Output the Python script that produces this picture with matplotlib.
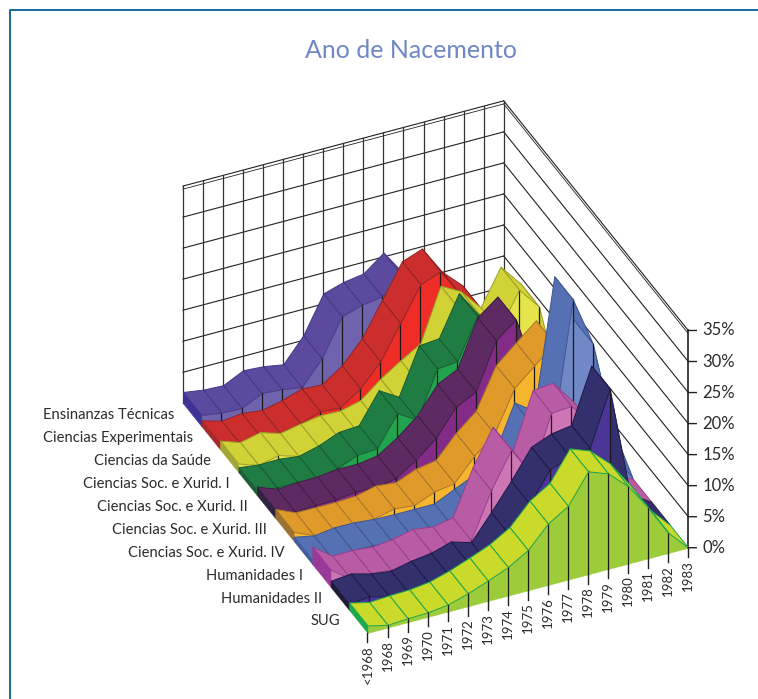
import matplotlib
matplotlib.use("Agg")
import matplotlib.pyplot as plt
from matplotlib.lines import Line2D
from mpl_toolkits.mplot3d import proj3d
from mpl_toolkits.mplot3d.art3d import Poly3DCollection

years = ["<1968", "1968", "1969", "1970", "1971", "1972", "1973", "1974", "1975",
         "1976", "1977", "1978", "1979", "1980", "1981", "1982", "1983"]
series_names = ["SUG", "Humanidades II", "Humanidades I", "Ciencias Soc. e Xurid. IV",
                "Ciencias Soc. e Xurid. III", "Ciencias Soc. e Xurid. II",
                "Ciencias Soc. e Xurid. I", "Ciencias da Saúde",
                "Ciencias Experimentais", "Ensinanzas Técnicas"]
pct_ticks = [0, 5, 10, 15, 20, 25, 30, 35]

# front to back
sug = [1.2, 0.45, 0.65, 0.75, 1.15, 2.1, 3.3, 4.6, 6.5, 9.9, 11.9, 16.6, 15.4, 12.5, 8.2, 3.3, 0]
hum2 = [1, 1.33, 0.47, 0.05, 0.8, 1.2, 2.2, 1.2, 5.2, 9.4, 14, 15.3, 15.8, 24.5, 7, 2, 0]
hum1 = [2.8, 0.5, 0.55, 0.23, 0.6, 1.37, 0.9, 1.54, 8.7, 14.4, 9.7, 18.6, 18.9, 15.1, 4, 1.5, 0]
soc4 = [0.7, 0.05, 0.5, 0.46, 0.14, 0.05, 0.05, 0.05, 1.56, 3, 5.5, 12.9, 10.7, 31.5, 23.5, 9, 0]
soc3 = [1.48, 0.09, 0.05, 0.05, 0.2, 0.97, 0.65, 1.95, 2.5, 6, 8.7, 15.2, 18, 20.7, 14, 7, 0]
soc2 = [1.39, 0.16, 0.38, 0.44, 0.82, 0.77, 1.26, 3.36, 6, 10.2, 11.8, 19.2, 21.7, 12, 7, 3, 0]
soc1 = [0.8, 0.39, 0.45, 0.05, 0.89, 2.2, 2.4, 7.2, 5.3, 12.7, 13, 19.4, 15, 10, 7, 3, 0]
saude = [1.4, 0.3, 1.05, 0.05, 0.7, 1.2, 1.1, 1.9, 4.5, 6.6, 8.5, 16.9, 15.2, 11.7, 17.4, 13.8, 0]
exper = [0.95, 0.05, 0.42, 0.05, 0.76, 1.8, 1.6, 3.8, 7.3, 12.6, 18, 19.2, 14.6, 11.6, 5, 2, 0]
tecn = [1.83, 1.35, 1.2, 2.76, 2.55, 2, 5.8, 11.7, 12.7, 13.2, 15.7, 11.5, 9, 5, 2.5, 1, 0]
all_series = [sug, hum2, hum1, soc4, soc3, soc2, soc1, saude, exper, tecn]

top_colors = ["#c9da2a", "#34306e", "#b85ca5", "#5570b3", "#e09a2a",
              "#5e2a62", "#1f7d43", "#d0d235", "#cc2e2e", "#5c4a9e"]
front_colors = ["#9ccc3a", "#4b3596", "#ce75b6", "#7089c6", "#f6b52c",
                "#842b87", "#22a44f", "#e5e44a", "#ef2d26", "#6f63ae"]
side_colors = ["#1ea94c", "#1e1b33", "#9a3a98", "#3e5d9d", "#9c7230",
               "#2e2340", "#1b5d36", "#a3a635", "#a52a2a", "#3f3296"]
edge_colors = ["#1ea64e", "#1c1a45", "#9a3f8c", "#3f5590", "#a8752a",
               "#3f1c44", "#155a30", "#9c9e2a", "#8f2424", "#453785"]

fig = plt.figure(figsize=(7.58, 6.99), dpi=100)
# axes centred on the middle of the chart box
ax = fig.add_axes([127.5 / 758, 24 / 699, 600 / 758, 600 / 699], projection="3d", computed_zorder=False)
ax.set_proj_type("ortho")
ax.view_init(elev=35.1, azim=-114.8)
ax.set_box_aspect((352.6, 439, 265), zoom=1.009)
n = len(years) - 1
m = len(all_series)
ax.set_xlim(0, n)
ax.set_ylim(0, m)
ax.set_zlim(0, 35)
ax.set_axis_off()

# walls
for p in pct_ticks[1:]:
    ax.plot([0, n], [m, m], [p, p], color="#222222", lw=0.8, zorder=1)
    ax.plot([n, n], [m, 0], [p, p], color="#222222", lw=0.8, zorder=1)
ax.plot([0, n], [m, m], [34.5, 34.5], color="#222222", lw=0.6, zorder=1)
ax.plot([n, n], [m, 0], [34.5, 34.5], color="#222222", lw=0.6, zorder=1)
for i in range(n + 1):
    ax.plot([i, i], [m, m], [0, 35], color="#333333", lw=0.9, zorder=1)
ax.plot([n, n], [0, 0], [0, 35], color="#222222", lw=1.2, zorder=2)

order = 10
for j in range(m - 1, -1, -1):
    vals = all_series[j]
    for i in range(n - 1, -1, -1):
        z0, z1 = vals[i], vals[i + 1]
        wall = Poly3DCollection([[(i, j, 0), (i + 1, j, 0), (i + 1, j, z1), (i, j, z0)]],
                                facecolors=front_colors[j], edgecolors=front_colors[j], linewidths=0.3)
        wall.set_zorder(order)
        ax.add_collection3d(wall, autolim=False)
        order += 1
        ax.plot([i + 1, i + 1], [j, j], [0, z1], color="#1a1a1a", lw=0.9, zorder=order)
        order += 1
        top = Poly3DCollection([[(i, j, z0), (i + 1, j, z1), (i + 1, j + 1, z1), (i, j + 1, z0)]],
                               facecolors=top_colors[j], edgecolors=edge_colors[j], linewidths=0.7)
        top.set_zorder(order)
        ax.add_collection3d(top, autolim=False)
        order += 1
    end = Poly3DCollection([[(0, j, 0), (0, j + 1, 0), (0, j + 1, vals[0]), (0, j, vals[0])]],
                           facecolors=side_colors[j], edgecolors=side_colors[j], linewidths=0.3)
    end.set_zorder(order)
    ax.add_collection3d(end, autolim=False)
    order += 1

top_z = order + 10


def label(x, y, z, s, dx, dy, **kw):
    # project the 3d anchor, then place plain text with a pixel offset
    px, py, _ = proj3d.proj_transform(x, y, z, ax.get_proj())
    ax.annotate(s, (px, py), xytext=(dx * 0.72, dy * 0.72), textcoords="offset points",
                annotation_clip=False, family="Lato", color="#2b2b2b", zorder=top_z, **kw)


for p in pct_ticks:
    ax.plot([n, n + 0.33], [0, -0.077], [p, p], color="#222222", lw=1.0, zorder=top_z)
    label(n, 0, p, f"{p}%", 14, 0, fontsize=12, va="center", ha="left")
for i, lab in enumerate(years):
    ax.plot([i, i], [0, 0], [0, -1.5], color="#222222", lw=1.0, zorder=top_z)
    label(i, 0, 0, lab, 0, -12, fontsize=9.5, rotation=90, va="top", ha="center")
for j, name in enumerate(series_names):
    label(0, 0.5 + j, 0, name, -18, 0, fontsize=10.6, va="center", ha="right")

fig.text(411 / 758, 1 - 50 / 699, "Ano de Nacemento", fontsize=18,
         family="Lato", color="#6f88c4", ha="center", va="center")

# frame of the page
fig.add_artist(Line2D([10 / 758, 10 / 758, 1], [0, 1 - 10 / 699, 1 - 10 / 699],
                      color="#156a9a", lw=1.4, transform=fig.transFigure))

fig.savefig("out.png", dpi=100)
